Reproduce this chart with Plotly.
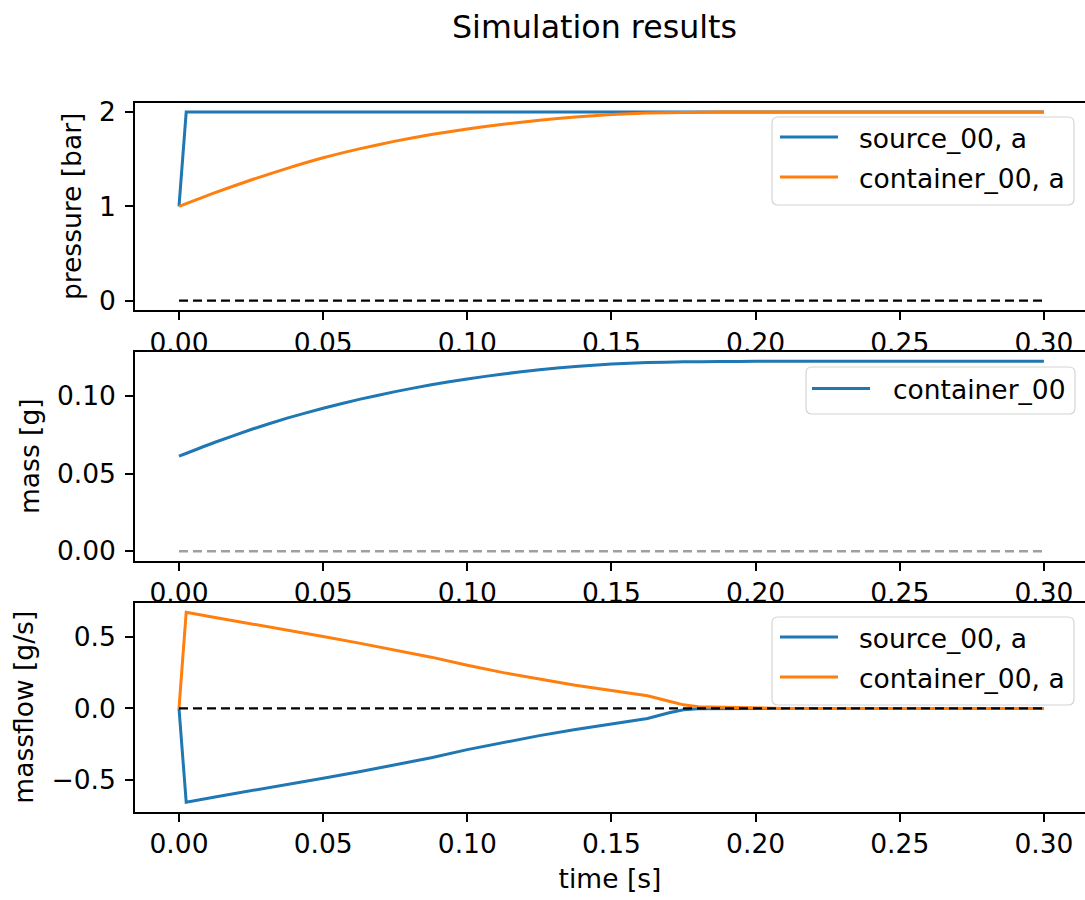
import plotly.graph_objects as go

# ---------------- data ----------------
series_names_p = ["source_00, a", "container_00, a"]
series_names_m = ["container_00"]
series_names_f = ["source_00, a", "container_00, a"]

t_src_p = [0.0, 0.0025, 0.3]
p_source = [1.0, 2.0, 2.0]

t_cont = [0.0, 0.0125, 0.025, 0.0375, 0.05, 0.0625, 0.075, 0.0875, 0.1, 0.1125,
          0.125, 0.1375, 0.15, 0.1625, 0.175, 0.1875, 0.2, 0.3]
p_container = [1.0, 1.145, 1.28, 1.403, 1.515, 1.61, 1.692, 1.762, 1.822, 1.872,
               1.914, 1.948, 1.974, 1.99, 1.997, 2.0, 2.0, 2.0]
m_container = [0.0612, 0.0702, 0.0784, 0.0857, 0.0921, 0.0978, 0.1028, 0.1072, 0.1110, 0.1142,
               0.1169, 0.1190, 0.1206, 0.1215, 0.1220, 0.1222, 0.1223, 0.1223]

t_flow = [0.0, 0.0025, 0.0125, 0.025, 0.0375, 0.05, 0.0625, 0.075, 0.0875, 0.1, 0.1125,
          0.125, 0.1375, 0.15, 0.1625, 0.17, 0.175, 0.18, 0.19, 0.2, 0.21, 0.3]
mf_container = [0.0, 0.672, 0.635, 0.592, 0.548, 0.503, 0.456, 0.408, 0.358, 0.302, 0.250,
                0.205, 0.162, 0.125, 0.088, 0.050, 0.025, 0.012, 0.007, 0.003, 0.0, 0.0]
mf_source = [0.0, -0.655, -0.618, -0.576, -0.532, -0.488, -0.442, -0.395, -0.345, -0.288, -0.237,
             -0.190, -0.147, -0.108, -0.070, -0.030, -0.009, -0.002, -0.001, 0.0, 0.0, 0.0]

t_zero = [0.0, 0.3]
zero_vals = [0.0, 0.0]

x_ticks = [0.0, 0.05, 0.10, 0.15, 0.20, 0.25, 0.30]
p_ticks = [0, 1, 2]
m_ticks = [0.0, 0.05, 0.10]
f_ticks = [-0.5, 0.0, 0.5]

# ---------------- layout helpers ----------------
W, H = 1085, 900
C0, C1 = "#1f77b4", "#ff7f0e"
FONT = "DejaVu Sans"
FS = 26.5


def X(px):
    return px / W


def Y(py):
    return 1 - py / H


fig = go.Figure()

# pressure
fig.add_trace(go.Scatter(x=t_src_p, y=p_source, mode="lines", line=dict(color=C0, width=3),
                         xaxis="x", yaxis="y", showlegend=False, name=series_names_p[0]))
fig.add_trace(go.Scatter(x=t_cont, y=p_container, mode="lines",
                         line=dict(color=C1, width=3, shape="spline", smoothing=0.5),
                         xaxis="x", yaxis="y", showlegend=False, name=series_names_p[1]))
fig.add_trace(go.Scatter(x=t_zero, y=zero_vals, mode="lines",
                         line=dict(color="black", width=2.4, dash="9px,5px"),
                         xaxis="x", yaxis="y", showlegend=False))
# mass
fig.add_trace(go.Scatter(x=t_cont, y=m_container, mode="lines",
                         line=dict(color=C0, width=3, shape="spline", smoothing=0.5),
                         xaxis="x2", yaxis="y2", showlegend=False, name=series_names_m[0]))
fig.add_trace(go.Scatter(x=t_zero, y=zero_vals, mode="lines",
                         line=dict(color="#a0a0a0", width=2.4, dash="9px,5px"),
                         xaxis="x2", yaxis="y2", showlegend=False))
# massflow
fig.add_trace(go.Scatter(x=t_flow, y=mf_source, mode="lines", line=dict(color=C0, width=3),
                         xaxis="x3", yaxis="y3", showlegend=False, name=series_names_f[0]))
fig.add_trace(go.Scatter(x=t_flow, y=mf_container, mode="lines", line=dict(color=C1, width=3),
                         xaxis="x3", yaxis="y3", showlegend=False, name=series_names_f[1]))
fig.add_trace(go.Scatter(x=t_zero, y=zero_vals, mode="lines",
                         line=dict(color="black", width=2.4, dash="9px,5px"),
                         xaxis="x3", yaxis="y3", showlegend=False))

axis_common = dict(showline=True, linecolor="black", linewidth=1.6, mirror=True,
                   ticks="outside", ticklen=8, tickwidth=1.6, tickcolor="black",
                   showgrid=False, zeroline=False, automargin=False,
                   tickfont=dict(family=FONT, size=FS, color="black"))

xdom = [X(135), 1.0]
xrange_ = [-0.01526, 0.31425]

p_range = [-0.1, 2.1]
m_range = [-0.00612, 0.12852]
f_range = [-0.7214, 0.7384]

layout_axes = {}
for i, (top, bot, yr, yt, fmt, ttl) in enumerate([
        (102.7, 310.0, p_range, p_ticks, "d", "pressure [bar]"),
        (351.7, 560.7, m_range, m_ticks, ".2f", "mass [g]"),
        (602.7, 811.7, f_range, f_ticks, ".1f", "massflow [g/s]")]):
    sfx = "" if i == 0 else str(i + 1)
    xa = dict(axis_common, domain=xdom, range=xrange_, anchor="y" + sfx,
              tickvals=x_ticks, tickformat=".2f", ticklabelstandoff=0)
    if i == 2:
        xa["title"] = dict(text="time [s]", font=dict(family=FONT, size=FS, color="black"), standoff=11)
    ya = dict(axis_common, domain=[Y(bot), Y(top)], range=yr, anchor="x" + sfx,
              tickvals=yt, tickformat=fmt, ticklabelstandoff=4,
              title=dict(text=ttl, font=dict(family=FONT, size=FS, color="black"), standoff=10))
    layout_axes["xaxis" + sfx] = xa
    layout_axes["yaxis" + sfx] = ya

fig.update_layout(**layout_axes)


def rounded_rect(x0, y0, x1, y1, r):
    return (f"M{X(x0 + r)},{Y(y0)} L{X(x1 - r)},{Y(y0)} Q{X(x1)},{Y(y0)} {X(x1)},{Y(y0 + r)} "
            f"L{X(x1)},{Y(y1 - r)} Q{X(x1)},{Y(y1)} {X(x1 - r)},{Y(y1)} "
            f"L{X(x0 + r)},{Y(y1)} Q{X(x0)},{Y(y1)} {X(x0)},{Y(y1 - r)} "
            f"L{X(x0)},{Y(y0 + r)} Q{X(x0)},{Y(y0)} {X(x0 + r)},{Y(y0)} Z")


shapes = []
annotations = []


def add_legend(box, rows, names, colors, line_x0, line_x1, text_x):
    x0, y0, x1, y1 = box
    shapes.append(dict(type="path", xref="paper", yref="paper", path=rounded_rect(x0, y0, x1, y1, 6),
                       fillcolor="rgba(255,255,255,0.8)", line=dict(color="#d4d4d4", width=1.2),
                       layer="above"))
    for ry, nm, col in zip(rows, names, colors):
        shapes.append(dict(type="line", xref="paper", yref="paper", x0=X(line_x0), x1=X(line_x1),
                           y0=Y(ry), y1=Y(ry), line=dict(color=col, width=3), layer="above"))
        annotations.append(dict(xref="paper", yref="paper", x=X(text_x), y=Y(ry + 1), text=nm,
                                showarrow=False, xanchor="left", yanchor="middle",
                                font=dict(family=FONT, size=FS, color="black")))


add_legend((772, 117, 1074, 205), [137, 177], series_names_p, [C0, C1], 780, 838, 857)
add_legend((806, 367, 1075, 414), [388.5], series_names_m, [C0], 812, 870, 891)
add_legend((772, 617, 1074, 705), [637, 677], series_names_f, [C0, C1], 780, 838, 857)

annotations.append(dict(xref="paper", yref="paper", x=X(594), y=Y(27), text="Simulation results",
                        showarrow=False, xanchor="center", yanchor="middle",
                        font=dict(family=FONT, size=31.7, color="black")))

fig.update_layout(width=W, height=H, margin=dict(l=0, r=0, t=0, b=0),
                  paper_bgcolor="white", plot_bgcolor="white",
                  shapes=shapes, annotations=annotations, showlegend=False,
                  font=dict(family=FONT, size=FS, color="black"))

fig.write_html("out.html", config={"displayModeBar": False},
               post_script="document.body.style.margin='0px';")
